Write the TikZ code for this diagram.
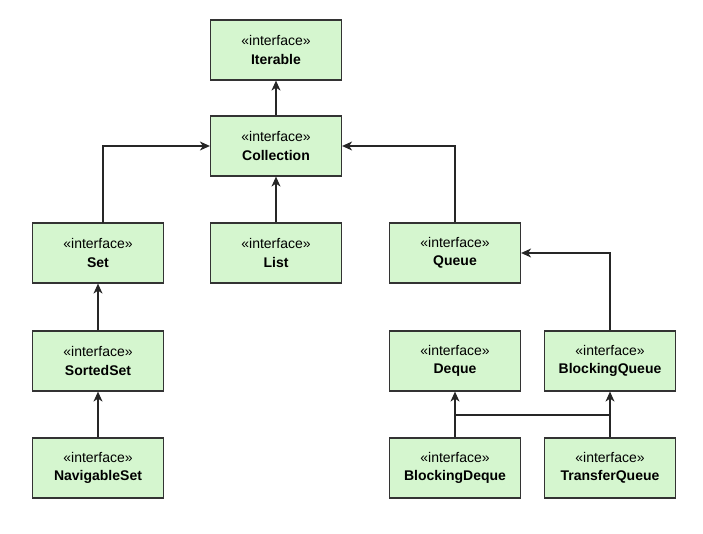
\documentclass[tikz,border=0pt]{standalone}
\usepackage{fontspec}
\setmainfont{Liberation Sans}
\usetikzlibrary{arrows.meta}
\definecolor{boxfill}{HTML}{D5F6CF}
\definecolor{boxline}{HTML}{333333}
\begin{document}
\begin{tikzpicture}[x=1pt,y=-1pt,
  iface/.style={draw=boxline,fill=boxfill,line width=1.2pt,minimum width=131pt,minimum height=60pt,
    align=center,inner sep=0pt,font=\fontsize{14}{18.5}\selectfont},
  conn/.style={draw=black!85,line width=1.2pt},
  arr/.style={conn,-{Stealth[length=10pt,width=9pt,inset=3pt]}}]
\useasboundingbox (0,0) rectangle (703,533);
\fill[white] (0,0) rectangle (703,533);
\newcommand{\ifc}[1]{«interface»\\\textbf{#1}}
\node[iface] (iter) at (276,50) {\ifc{Iterable}};
\node[iface] (coll) at (276,146) {\ifc{Collection}};
\node[iface] (set) at (98,253) {\ifc{Set}};
\node[iface] (list) at (276,253) {\ifc{List}};
\node[iface] (queue) at (455,253) {\ifc{Queue}};
\node[iface] (sset) at (98,361) {\ifc{SortedSet}};
\node[iface] (deque) at (455,361) {\ifc{Deque}};
\node[iface] (bq) at (610,361) {\ifc{BlockingQueue}};
\node[iface] (nset) at (98,468) {\ifc{NavigableSet}};
\node[iface] (bd) at (455,468) {\ifc{BlockingDeque}};
\node[iface] (tq) at (610,468) {\ifc{TransferQueue}};
\coordinate (setTop) at (103,223);
\coordinate (j1) at (455,415);
\coordinate (j2) at (610,415);
\draw[arr] (coll) -- (iter);
\draw[arr] (list) -- (coll);
\draw[arr] (setTop) |- (coll.west);
\draw[arr] (queue.north) |- (coll.east);
\draw[arr] (bq.north) |- (queue.east);
\draw[arr] (sset) -- (set);
\draw[arr] (nset) -- (sset);
\draw[arr] (bd) -- (deque);
\draw[arr] (tq) -- (bq);
\draw[conn] (j1) -- (j2);
\end{tikzpicture}
\end{document}
